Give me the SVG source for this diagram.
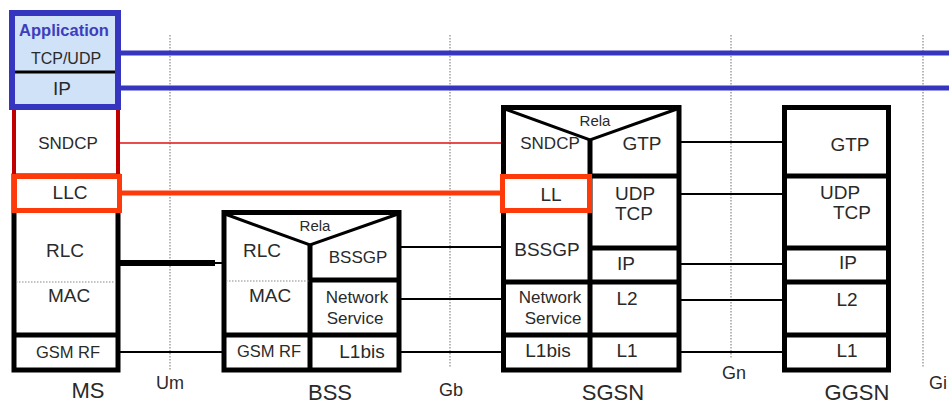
<svg xmlns="http://www.w3.org/2000/svg" width="949" height="403" viewBox="0 0 949 403">
<style>
text{font-family:"Liberation Sans",Arial,sans-serif;fill:#2a2a2a;text-anchor:middle;dominant-baseline:central}
.box{fill:#fff;stroke:#000;stroke-width:5}
.div{stroke:#000;stroke-width:5;fill:none}
.tri{stroke:#000;stroke-width:3;fill:none}
.dot{stroke:#888;stroke-width:1.2;stroke-dasharray:1.5 1.5;fill:none}
.ln{stroke:#000;stroke-width:2;fill:none}
.orange{fill:#fff;stroke:#ff3a0a;stroke-width:5}
.f19{font-size:19px}.f18{font-size:18px}.f17{font-size:17px}.f15{font-size:15px}.f23{font-size:22px}
</style>
<rect width="949" height="403" fill="#fff"/>
<g id="interfaces">
<line class="dot" x1="170" y1="35" x2="170" y2="370"/>
<line class="dot" x1="450" y1="35" x2="450" y2="368"/>
<line class="dot" x1="731" y1="35" x2="731" y2="358"/>
<line class="dot" x1="923" y1="35" x2="923" y2="367"/>
<text class="f18" x="170" y="383">Um</text>
<text class="f18" x="451" y="390">Gb</text>
<text class="f18" x="734" y="373">Gn</text>
<text class="f18" x="938" y="383">Gi</text>
</g>
<g id="connectors">
<line x1="118" y1="53" x2="949" y2="53" stroke="#3535c0" stroke-width="5"/>
<line x1="118" y1="88" x2="949" y2="88" stroke="#3535c0" stroke-width="5"/>
<line x1="118" y1="143" x2="501" y2="143" stroke="#e01010" stroke-width="1.6"/>
<line x1="120" y1="193" x2="501" y2="193" stroke="#ff3a0a" stroke-width="5"/>
<line x1="118" y1="263" x2="215" y2="263" stroke="#000" stroke-width="6"/>
<line class="ln" x1="215" y1="263" x2="223" y2="263"/>
<line class="ln" x1="118" y1="352" x2="223" y2="352"/>
<line class="ln" x1="400" y1="247" x2="502" y2="247"/>
<line class="ln" x1="400" y1="299" x2="502" y2="299"/>
<line class="ln" x1="400" y1="352" x2="502" y2="352"/>
<line class="ln" x1="680" y1="142" x2="783" y2="142"/>
<line class="ln" x1="680" y1="194" x2="783" y2="194"/>
<line class="ln" x1="680" y1="264" x2="783" y2="264"/>
<line class="ln" x1="680" y1="300" x2="783" y2="300"/>
<line class="ln" x1="680" y1="352" x2="783" y2="352"/>
</g>
<g id="MS">
<rect class="box" x="14" y="176" width="104" height="194"/>
<line x1="14" y1="107" x2="14" y2="177" stroke="#c00000" stroke-width="4"/>
<line x1="118" y1="107" x2="118" y2="177" stroke="#c00000" stroke-width="4"/>
<rect x="12" y="13" width="106" height="94" fill="#cfe2f8" stroke="#3535c0" stroke-width="6"/>
<line x1="15" y1="72" x2="115" y2="72" stroke="#000" stroke-width="3"/>
<rect class="orange" x="14.5" y="176.5" width="105" height="34"/>
<line class="dot" x1="16" y1="282" x2="116" y2="282"/>
<line class="div" x1="14" y1="335" x2="118" y2="335"/>
<text x="64" y="30" font-size="16.5" font-weight="bold" style="fill:#3d3dbd">Application</text>
<text x="66" y="58" font-size="16">TCP/UDP</text>
<text class="f19" x="62" y="88">IP</text>
<text class="f17" x="68" y="143">SNDCP</text>
<text class="f19" x="70" y="192">LLC</text>
<text class="f19" x="65" y="250">RLC</text>
<text class="f19" x="69" y="295">MAC</text>
<text x="68" y="352" font-size="16.5">GSM RF</text>
<text class="f23" x="88" y="390">MS</text>
</g>
<g id="BSS">
<rect class="box" x="224" y="212.5" width="175" height="157.5"/>
<polyline class="tri" points="225,214 310,245 398,214"/>
<line class="div" x1="310" y1="244" x2="310" y2="370"/>
<line class="div" x1="310" y1="280" x2="399" y2="280"/>
<line class="dot" x1="226" y1="281" x2="309" y2="281"/>
<line class="div" x1="224" y1="335" x2="399" y2="335"/>
<text class="f15" x="315" y="225">Rela</text>
<text class="f19" x="262" y="250">RLC</text>
<text class="f17" x="358" y="257">BSSGP</text>
<text class="f19" x="270" y="295">MAC</text>
<text class="f17" x="357" y="297">Network</text>
<text class="f17" x="355" y="318">Service</text>
<text x="269" y="351" font-size="16.5">GSM RF</text>
<text class="f19" x="362" y="351">L1bis</text>
<text class="f23" x="330" y="392">BSS</text>
</g>
<g id="SGSN">
<rect class="box" x="503.5" y="107.5" width="175.5" height="262.5"/>
<polyline class="tri" points="505,109 590,140 677,109"/>
<line class="div" x1="590" y1="139" x2="590" y2="370"/>
<line class="div" x1="590" y1="176" x2="679" y2="176"/>
<line class="div" x1="590" y1="248" x2="679" y2="248"/>
<line class="div" x1="503" y1="282" x2="679" y2="282"/>
<line class="div" x1="503" y1="335" x2="679" y2="335"/>
<rect class="orange" x="502.5" y="176.5" width="87" height="34"/>
<text class="f15" x="595" y="120">Rela</text>
<text class="f17" x="550" y="143">SNDCP</text>
<text class="f19" x="642" y="143">GTP</text>
<text class="f19" x="551" y="194">LL</text>
<text class="f19" x="635" y="193">UDP</text>
<text class="f19" x="634" y="213">TCP</text>
<text class="f19" x="547" y="249">BSSGP</text>
<text class="f19" x="626" y="263">IP</text>
<text class="f17" x="550" y="297">Network</text>
<text class="f17" x="553" y="318">Service</text>
<text class="f19" x="627" y="298">L2</text>
<text class="f19" x="548" y="350">L1bis</text>
<text class="f19" x="627" y="350">L1</text>
<text class="f23" x="613" y="392">SGSN</text>
</g>
<g id="GGSN">
<rect class="box" x="784.5" y="107.5" width="104" height="262.5"/>
<line class="div" x1="784" y1="176" x2="889" y2="176"/>
<line class="div" x1="784" y1="248" x2="889" y2="248"/>
<line class="div" x1="784" y1="282" x2="889" y2="282"/>
<line class="div" x1="784" y1="335" x2="889" y2="335"/>
<text class="f19" x="850" y="144">GTP</text>
<text class="f19" x="840" y="192">UDP</text>
<text class="f19" x="852" y="212">TCP</text>
<text class="f19" x="848" y="262">IP</text>
<text class="f19" x="847" y="299">L2</text>
<text class="f19" x="847" y="350">L1</text>
<text class="f23" x="857" y="392">GGSN</text>
</g>
</svg>
